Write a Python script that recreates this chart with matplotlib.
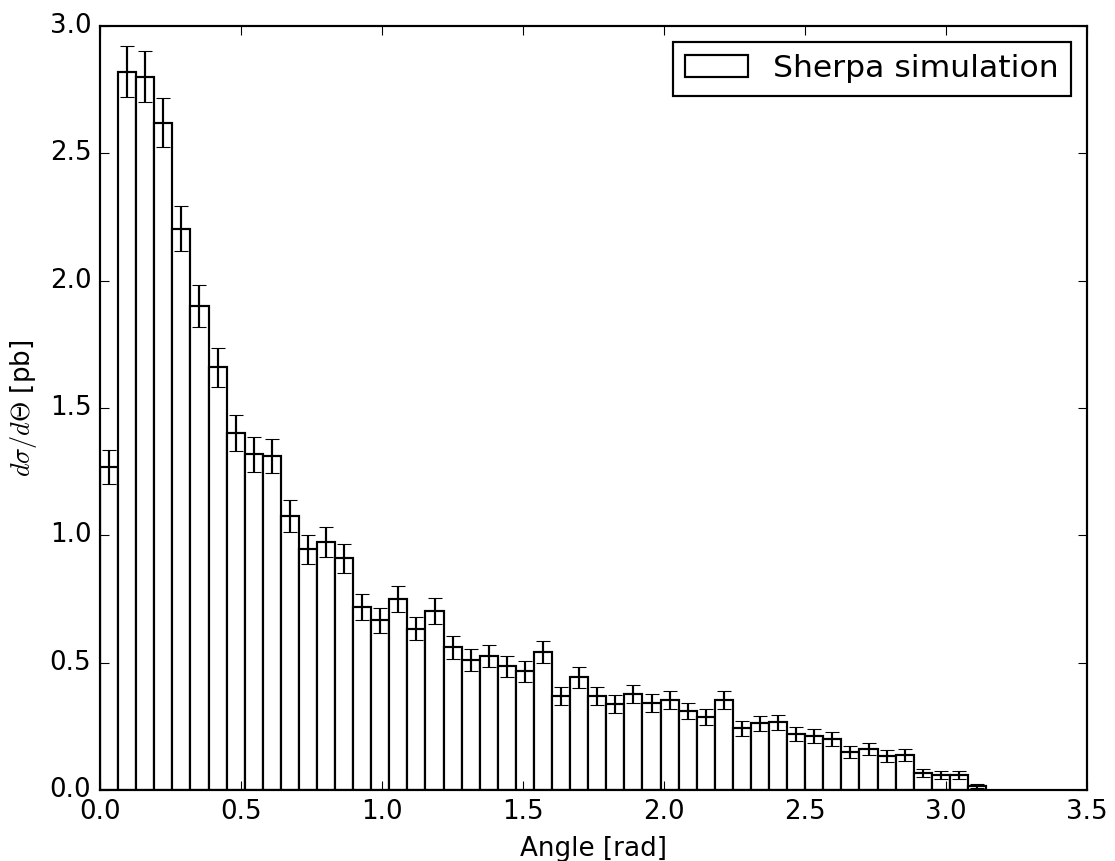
import numpy as np
import matplotlib
matplotlib.use("Agg")
import matplotlib.pyplot as plt

plt.style.use("classic")

# angular distribution, 49 bins from 0 to pi
n_bins = 49
xsec = [1.267, 2.819, 2.801, 2.620, 2.204, 1.900, 1.659, 1.401, 1.318, 1.311,
        1.075, 0.945, 0.974, 0.910, 0.717, 0.667, 0.750, 0.633, 0.703, 0.560,
        0.511, 0.525, 0.486, 0.466, 0.542, 0.368, 0.442, 0.370, 0.339, 0.378,
        0.343, 0.353, 0.311, 0.287, 0.353, 0.242, 0.261, 0.265, 0.219, 0.212,
        0.201, 0.150, 0.161, 0.133, 0.137, 0.066, 0.059, 0.060, 0.016]
xsec_err = [0.066, 0.100, 0.100, 0.095, 0.087, 0.082, 0.076, 0.070, 0.068, 0.067,
            0.062, 0.057, 0.059, 0.057, 0.051, 0.049, 0.052, 0.046, 0.050, 0.045,
            0.044, 0.043, 0.041, 0.041, 0.044, 0.035, 0.040, 0.036, 0.035, 0.036,
            0.035, 0.035, 0.032, 0.032, 0.035, 0.030, 0.031, 0.031, 0.028, 0.027,
            0.027, 0.023, 0.024, 0.022, 0.023, 0.016, 0.016, 0.015, 0.007]

edges = np.linspace(0, np.pi, n_bins + 1)
width = edges[1] - edges[0]
centers = edges[:-1] + width / 2

dpi = 157
fig = plt.figure(figsize=(1115 / dpi, 861 / dpi), dpi=dpi, facecolor="white")
ax = fig.add_axes([0.0897, 0.0825, 0.8853, 0.8875])

ax.bar(edges[:-1], xsec, width=width, align="edge", color="white",
       edgecolor="black", linewidth=1.0, label="Sherpa simulation")
ax.errorbar(centers, xsec, yerr=xsec_err, fmt="none", ecolor="black",
            capsize=3, elinewidth=1.0)

ax.set_xlim(0, 3.5)
ax.set_ylim(0, 3.0)
ax.set_xlabel("Angle [rad]")
ax.set_ylabel(r"$d\sigma/d\Theta$ [pb]")
ax.legend(loc="upper right")

fig.savefig("out.png", dpi=dpi, facecolor="white")
